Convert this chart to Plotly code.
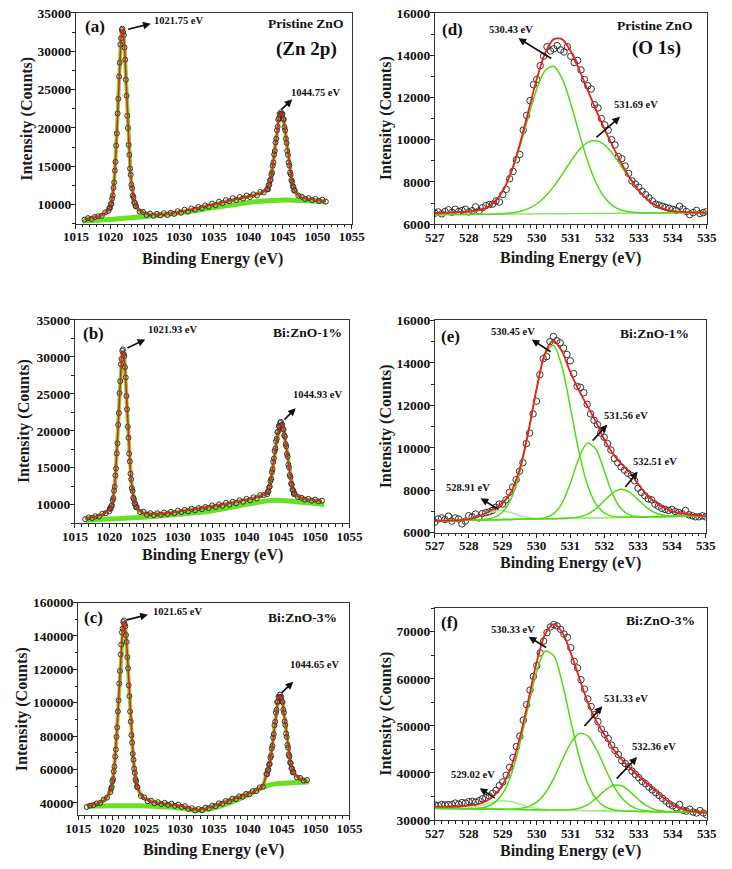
import numpy as np
import plotly.graph_objects as go

W, H = 732, 869
SERIF = "Liberation Serif, Times New Roman, serif"
RED = "#f01d1d"
GREEN = "#4fdc14"
LGREEN = "#a8ec8a"
ZN_HALO = "#72e23c"
ZN_BG = "#68e024"
DOT = "#333333"

def grid(segs):
    parts = [np.arange(a, b + s / 2, s) for a, b, s in segs]
    return np.round(np.concatenate(parts), 2)

# ---------------- Zn 2p (intensities in thousands of counts) ----------------
A_SEGS = [(1016.25, 1019.25, 0.5), (1019.75, 1023.75, 0.1), (1024.25, 1042.25, 0.5),
          (1042.75, 1046.75, 0.1), (1047.25, 1051.25, 0.5)]
A_FIT = [8.10, 8.17, 8.25, 8.33, 8.45, 8.62, 8.90,
         9.30, 9.45, 9.65, 9.90, 10.18, 10.68, 11.31, 12.05, 13.05, 14.30, 15.79, 17.53, 19.50, 21.74,
         23.97, 26.45, 28.67, 30.66, 31.89, 32.63, 32.88, 32.64, 31.91, 30.68, 28.71, 26.50, 24.03,
         21.82, 19.80, 17.94, 16.31, 14.89, 13.71, 12.73, 11.99, 11.33, 10.80, 10.44, 10.14, 9.90, 9.69,
         9.20, 8.95, 8.80, 8.72, 8.70, 8.70, 8.72, 8.75, 8.80, 8.86, 8.93, 9.00, 9.08, 9.17, 9.26, 9.36,
         9.46, 9.57, 9.68, 9.79, 9.90, 10.01, 10.12, 10.23, 10.34, 10.45, 10.55, 10.65, 10.75, 10.85,
         10.94, 11.03, 11.12, 11.22, 11.34, 11.50, 11.72,
         11.95, 12.16, 12.41, 12.72, 13.02, 13.41, 13.80, 14.35, 14.96, 15.64, 16.38, 17.15, 17.92, 18.75,
         19.55, 20.29, 20.95, 21.39, 21.68, 21.87, 21.95, 21.87, 21.68, 21.39, 20.95, 20.29, 19.55, 18.75,
         17.92, 17.15, 16.38, 15.64, 14.96, 14.35, 13.80, 13.31, 12.87, 12.52, 12.21, 11.96, 11.75,
         11.25, 10.95, 10.80, 10.72, 10.65, 10.60, 10.55, 10.50, 10.45]
A_DATA = [8.05, 8.25, 8.15, 8.40, 8.50, 8.55, 9.00,
          9.20, 9.55, 9.60, 10.05, 10.10, 10.80, 11.20, 12.20, 12.90, 14.45, 15.60, 17.70, 19.30, 21.90,
          23.80, 26.70, 28.50, 30.90, 31.70, 32.80, 32.95, 32.50, 32.10, 30.50, 28.90, 26.30, 24.20,
          21.60, 20.00, 17.80, 16.50, 14.70, 13.90, 12.60, 12.15, 11.20, 10.95, 10.30, 10.25, 9.80, 9.80,
          9.10, 9.05, 8.65, 8.85, 8.55, 8.80, 8.60, 8.90, 8.65, 8.95, 8.80, 9.15, 8.95, 9.35, 9.10, 9.50,
          9.35, 9.70, 9.55, 9.90, 9.75, 10.15, 9.95, 10.40, 10.20, 10.60, 10.45, 10.85, 10.60, 11.00,
          10.80, 11.20, 11.00, 11.35, 11.20, 11.65, 11.60,
          12.05, 12.00, 12.55, 12.60, 13.15, 13.30, 13.95, 14.20, 15.10, 15.50, 16.55, 17.00, 18.10, 18.60,
          19.70, 20.15, 21.10, 21.25, 21.85, 21.70, 22.05, 21.75, 21.85, 21.20, 21.10, 20.10, 19.70, 18.60,
          18.05, 17.00, 16.50, 15.50, 15.10, 14.20, 13.95, 13.20, 13.00, 12.40, 12.35, 11.85, 11.85,
          11.20, 11.05, 10.75, 10.85, 10.60, 10.75, 10.50, 10.65, 10.40]
A_BG_X = [1016, 1020, 1025, 1030, 1035, 1040, 1043, 1045.5, 1048, 1051.25]
A_BG_Y = [7.87, 8.07, 8.45, 8.95, 9.62, 10.30, 10.52, 10.62, 10.55, 10.35]

B_SEGS = [(1016.5, 1019.5, 0.5), (1020.0, 1024.0, 0.1), (1024.5, 1042.5, 0.5),
          (1043.0, 1047.0, 0.1), (1047.5, 1051.0, 0.5)]
B_FIT = [8.10, 8.18, 8.27, 8.37, 8.50, 8.68, 8.95,
         9.21, 9.38, 9.51, 9.70, 10.00, 10.45, 11.03, 11.72, 12.62, 13.76, 15.13, 16.71, 18.53, 20.57,
         22.60, 24.87, 26.92, 28.73, 29.87, 30.55, 30.78, 30.56, 29.90, 28.77, 26.97, 24.94, 22.68,
         20.76, 18.84, 17.13, 15.66, 14.36, 13.28, 12.39, 11.72, 11.10, 10.61, 10.28, 10.00, 9.78, 9.58,
         9.10, 8.88, 8.78, 8.74, 8.73, 8.74, 8.77, 8.81, 8.86, 8.92, 8.98, 9.05, 9.12, 9.19, 9.26, 9.33,
         9.40, 9.47, 9.54, 9.61, 9.69, 9.77, 9.85, 9.93, 10.01, 10.10, 10.19, 10.28, 10.37, 10.46, 10.56,
         10.66, 10.76, 10.87, 11.00, 11.17, 11.40,
         11.48, 11.64, 11.90, 12.22, 12.58, 13.05, 13.62, 14.25, 14.92, 15.65, 16.37, 17.09, 17.76, 18.43,
         19.05, 19.61, 20.08, 20.44, 20.69, 20.85, 20.90, 20.85, 20.68, 20.43, 20.06, 19.59, 19.02, 18.40,
         17.72, 17.05, 16.32, 15.60, 14.87, 14.20, 13.57, 13.00, 12.53, 12.17, 11.85, 11.59, 11.43,
         11.10, 10.90, 10.78, 10.70, 10.62, 10.56, 10.50, 10.45]
B_DATA = [8.05, 8.30, 8.20, 8.45, 8.40, 8.80, 8.85,
          9.10, 9.50, 9.45, 9.85, 9.90, 10.60, 10.90, 11.90, 12.45, 13.95, 14.90, 16.95, 18.30, 20.80,
          22.40, 25.10, 26.70, 29.00, 29.70, 30.80, 31.00, 30.40, 30.10, 28.60, 27.20, 24.70, 22.90,
          20.55, 19.05, 16.90, 15.85, 14.20, 13.45, 12.25, 11.85, 10.95, 10.75, 10.15, 10.10, 9.65, 9.70,
          9.00, 9.05, 8.65, 8.85, 8.60, 8.85, 8.65, 8.95, 8.75, 9.05, 8.85, 9.20, 9.00, 9.30, 9.10, 9.45,
          9.25, 9.55, 9.40, 9.70, 9.55, 9.90, 9.70, 10.05, 9.85, 10.25, 10.00, 10.40, 10.20, 10.60, 10.40,
          10.80, 10.60, 11.00, 10.85, 11.30, 11.30,
          11.40, 11.75, 11.80, 12.35, 12.45, 13.20, 13.50, 14.40, 14.80, 15.80, 16.25, 17.25, 17.60, 18.60,
          18.90, 19.80, 19.90, 20.65, 20.55, 21.05, 21.20, 20.70, 20.85, 20.25, 20.20, 19.40, 19.20, 18.20,
          17.90, 16.85, 16.50, 15.40, 15.05, 14.00, 13.75, 12.85, 12.70, 12.00, 11.95, 11.45, 11.55,
          11.05, 10.95, 10.70, 10.80, 10.55, 10.70, 10.45, 10.55]
B_BG_X = [1016.6, 1020, 1025, 1030, 1035, 1040, 1043.5, 1046, 1049, 1051.3]
B_BG_Y = [7.90, 8.07, 8.30, 8.70, 9.20, 10.05, 10.58, 10.52, 10.25, 10.00]

C_SEGS = [(1016.25, 1019.25, 0.5), (1019.75, 1023.75, 0.1), (1024.25, 1042.25, 0.5),
          (1042.75, 1046.75, 0.1), (1047.25, 1048.75, 0.5)]
C_FIT = [38.3, 38.6, 39.0, 39.5, 40.3, 41.6, 43.6,
         46.8, 48.1, 50.0, 52.2, 54.6, 58.2, 62.3, 67.0, 72.5, 78.8, 86.0, 94.0, 102.2, 110.7, 119.8,
         128.1, 135.6, 141.3, 145.1, 147.6, 148.4, 147.6, 145.1, 141.3, 135.6, 128.1, 119.8, 111.2,
         103.2, 95.5, 88.0, 81.3, 75.5, 70.0, 65.3, 61.2, 57.4, 54.8, 52.4, 50.3, 48.8,
         44.8, 42.8, 41.6, 40.9, 40.4, 40.0, 39.8, 39.6, 39.4, 39.1, 38.8, 38.5, 38.1, 37.6, 37.0, 36.4,
         36.0, 35.9, 36.2, 36.7, 37.3, 37.9, 38.6, 39.3, 40.0, 40.7, 41.4, 42.1, 42.8, 43.5, 44.2, 44.9,
         45.7, 46.6, 47.6, 48.8, 50.3,
         56.8, 57.8, 59.0, 60.4, 62.1, 64.1, 66.4, 69.0, 71.8, 75.0, 78.4, 82.0, 85.6, 89.4, 93.1, 96.5,
         99.5, 101.6, 102.9, 103.8, 104.2, 103.8, 102.9, 101.6, 99.6, 96.6, 93.3, 89.7, 85.9, 82.4, 78.9,
         75.5, 72.4, 69.7, 67.2, 65.0, 63.0, 61.4, 60.1, 58.9, 58.0,
         55.8, 54.5, 53.8, 53.2]
C_DATA = [37.6, 38.4, 38.7, 39.8, 40.0, 42.0, 43.2,
          46.5, 48.6, 49.6, 52.9, 54.2, 58.9, 61.8, 67.8, 72.0, 79.6, 85.2, 94.8, 101.4, 111.5, 119.0,
          128.9, 134.8, 142.1, 144.4, 148.3, 149.3, 147.0, 145.8, 140.6, 136.4, 127.3, 120.6, 110.4,
          104.0, 94.8, 88.7, 80.6, 76.1, 69.4, 65.9, 60.6, 58.0, 54.2, 53.0, 49.8, 49.4,
          44.2, 43.3, 41.0, 41.4, 39.8, 40.5, 39.3, 40.1, 38.9, 39.6, 38.3, 39.0, 37.6, 38.1, 36.5, 36.9,
          35.5, 36.4, 35.7, 37.2, 36.8, 38.4, 38.1, 39.8, 39.5, 41.2, 40.9, 42.6, 42.3, 44.0, 43.7, 45.4,
          45.2, 47.1, 47.1, 49.3, 49.8,
          57.3, 57.2, 59.6, 59.8, 62.8, 63.4, 67.1, 68.3, 72.6, 74.2, 79.2, 81.2, 86.5, 88.6, 94.0, 95.7,
          100.4, 100.8, 103.7, 103.0, 104.9, 103.0, 103.6, 100.8, 100.4, 95.8, 94.1, 88.9, 86.7, 81.6,
          79.6, 74.7, 73.1, 69.0, 67.9, 64.3, 63.7, 60.7, 60.6, 58.3, 58.6,
          55.3, 55.0, 53.4, 53.7]
C_BG_X = [1016.3, 1020, 1024, 1027, 1030, 1032.5, 1035, 1038, 1040, 1042, 1043.5, 1046, 1049]
C_BG_Y = [38.0, 38.3, 38.3, 37.8, 37.0, 35.6, 37.0, 41.0, 44.8, 49.0, 51.0, 51.9, 52.5]

# ---------------- O 1s (counts) ----------------
O_DATA_SEG = [(527.0, 535.0, 0.1)]
O_FIT_SEG = [(527.0, 535.0, 0.25)]

D_DATA = [6520, 6580, 6490, 6600, 6680, 6560, 6710, 6600, 6650, 6710,
          6580, 6640, 6820, 6630, 6780, 6880, 6930, 6950, 7100, 7050,
          7400, 7650, 8150, 8500, 9050, 9300, 10450, 11150, 11850, 12600,
          12850, 13500, 13950, 14400, 14200, 14300, 14450, 14250, 14150, 14400,
          13950, 13650, 13750, 13300, 12850, 12550, 12400, 11650, 11500, 11000,
          10700, 10450, 10000, 9750, 9200, 9100, 8750, 8400, 8050, 7900,
          7750, 7550, 7400, 7250, 7100, 6950, 6900, 6850, 6800, 6750,
          6700, 6650, 6850, 6720, 6600, 6450, 6550, 6650, 6500, 6550, 6600]
D_ENV = [6530, 6540, 6550, 6570, 6600, 6650, 6760, 7050, 7583, 8493, 9783, 11331, 12882, 14109,
         14760, 14747, 14182, 13309, 12327, 11378, 10476, 9636, 8850, 8157, 7594, 7175, 6890, 6717,
         6623, 6578, 6558, 6552, 6552]
D_C1 = [6520, 6530, 6540, 6560, 6590, 6640, 6750, 7040, 7560, 8438, 9659, 11076, 12402, 13288,
        13466, 12874, 11701, 10290, 8963, 7937, 7247, 6859, 6659, 6573, 6542, 6533, 6531, 6534,
        6537, 6541, 6544, 6547, 6550]
D_C2 = [6450, 6453, 6456, 6459, 6462, 6466, 6472, 6481, 6498, 6533, 6605, 6739, 6967, 7312,
        7788, 8370, 8981, 9522, 9870, 9950, 9741, 9293, 8710, 8106, 7577, 7170, 6890, 6717,
        6623, 6578, 6558, 6552, 6552]
D_BG_X = [527, 535]
D_BG_Y = [6450, 6550]

E_DATA = [6500, 6650, 6700, 6620, 6780, 6550, 6700, 6650, 6420, 6550,
          6800, 6750, 6880, 6700, 6900, 6950, 6980, 7050, 7200, 7350,
          7350, 7550, 7900, 8150, 8500, 8900, 9300, 10200, 10700, 11600,
          12200, 13450, 14200, 14300, 15000, 15250, 15050, 14950, 14700, 14400,
          14100, 13500, 12900, 12850, 12600, 12050, 11600, 11300, 11100, 10700,
          10500, 10200, 9900, 9500, 9300, 9100, 8950, 8800, 8700, 8450,
          8100, 7900, 7750, 7600, 7550, 7350, 7250, 7150, 7100, 7050,
          7100, 7000, 6950, 6900, 7050, 6850, 6800, 6750, 6750, 6800, 6750]
E_ENV = [6560, 6568, 6578, 6599, 6647, 6751, 6918, 7129, 7402, 7917, 8963, 10679, 12750, 14443,
         15057, 14556, 13567, 12722, 11987, 11250, 10400, 9750, 9250, 8850, 8300, 7800, 7450, 7200,
         7020, 6920, 6860, 6820, 6800]
E_CA = [6560, 6568, 6578, 6599, 6646, 6745, 6889, 7017, 7041, 6951, 6817, 6718, 6673, 6663,
        6665, 6673, 6680, 6688, 6695, 6703, 6710, 6718, 6725, 6733, 6740, 6748, 6755, 6763,
        6770, 6778, 6785, 6793, 6800]
E_CB = [6560, 6568, 6575, 6583, 6591, 6604, 6634, 6725, 6981, 7594, 8781, 10603, 12718, 14386,
        14835, 13848, 11912, 9857, 8286, 7370, 6941, 6785, 6741, 6736, 6740, 6748, 6755, 6763,
        6770, 6778, 6785, 6793, 6800]
E_CC = [6560, 6568, 6575, 6583, 6590, 6598, 6605, 6613, 6620, 6628, 6635, 6644, 6659, 6710,
        6887, 7378, 8321, 9497, 10223, 9960, 8917, 7818, 7127, 6841, 6761, 6751, 6755, 6763,
        6770, 6778, 6785, 6793, 6800]
E_CD = [6560, 6568, 6575, 6583, 6590, 6598, 6605, 6613, 6620, 6628, 6635, 6643, 6650, 6658,
        6665, 6676, 6694, 6744, 6868, 7122, 7500, 7879, 8055, 7918, 7563, 7193, 6942, 6824,
        6786, 6781, 6785, 6793, 6800]
E_BG_X = [527, 535]
E_BG_Y = [6560, 6800]

F_DATA = [33200, 33100, 33300, 33200, 33250, 33300, 33600, 33350, 33700, 33600,
          33900, 34000, 33800, 34100, 34500, 34700, 35100, 35700, 36300, 37300,
          38100, 39500, 41200, 43300, 45600, 47800, 51200, 54500, 57600, 60500,
          62800, 65500, 68000, 69800, 71000, 71500, 71200, 70500, 69500, 68800,
          66600, 63700, 62300, 59800, 57800, 55700, 54100, 52400, 50900, 49300,
          48200, 47300, 45900, 44800, 43900, 42600, 42000, 41300, 40400, 39700,
          39000, 38200, 37700, 37000, 36400, 35800, 35200, 34600, 34000, 33400,
          33000, 32600, 33300, 32100, 31900, 32300, 31700, 31500, 32000, 31500, 31100]
F_ENV = [32850, 32850, 32870, 32920, 33050, 33350, 34000, 35300, 37550, 41400, 47450, 55400,
         63600, 69550, 71600, 69800, 65500, 60200, 55000, 51000, 48000, 45100, 42800, 41000,
         39300, 37700, 36200, 34600, 33200, 32400, 31900, 31700, 31550]
F_CA = [32500, 32472, 32462, 32488, 32613, 32909, 33379, 33858, 34074, 33867, 33354, 32811,
        32426, 32221, 32128, 32078, 32050, 32022, 31994, 31966, 31938, 31909, 31881, 31853,
        31825, 31797, 31769, 31741, 31713, 31684, 31656, 31628, 31600]
F_CB = [32500, 32472, 32444, 32422, 32417, 32481, 32768, 33629, 35679, 39707, 46099, 54151,
        61673, 65854, 64846, 59108, 51020, 43332, 37730, 34438, 32843, 32190, 31955, 31870,
        31825, 31797, 31769, 31741, 31713, 31684, 31656, 31628, 31600]
F_CC = [32500, 32472, 32444, 32416, 32388, 32359, 32331, 32303, 32289, 32306, 32430, 32835,
        33815, 35754, 38841, 42738, 46370, 48386, 47884, 45086, 41143, 37398, 34665, 33053,
        32264, 31933, 31805, 31749, 31713, 31684, 31656, 31628, 31600]
F_CD = [32500, 32472, 32444, 32416, 32388, 32359, 32331, 32303, 32275, 32247, 32219, 32191,
        32163, 32134, 32106, 32109, 32188, 32498, 33270, 34627, 36260, 37376, 37267, 35984,
        34294, 32945, 32185, 31858, 31739, 31684, 31656, 31628, 31600]
F_BG_X = [527, 535]
F_BG_Y = [32500, 31600]

# ---------------- layout geometry (pixels) ----------------
# panel: (left, right, top, bottom)
BOX = {
    "a": (65.3, 351.7, 6.0, 220.7),
    "d": (438.0, 720.3, 6.0, 221.0),
    "b": (64.3, 349.3, 318.3, 525.3),
    "e": (438.0, 719.3, 319.0, 535.0),
    "c": (67.7, 349.3, 606.0, 822.7),
    "f": (438.0, 720.3, 611.7, 827.3),
}
AXID = {"a": "", "d": "2", "b": "3", "e": "4", "c": "5", "f": "6"}

fig = go.Figure()


def xr(p):
    return "x" + AXID[p]


def yr(p):
    return "y" + AXID[p]


def zn_panel(p, segs, data_k, fit_k, bgx, bgy_k):
    x = grid(segs)
    assert len(x) == len(data_k) == len(fit_k), (p, len(x), len(data_k), len(fit_k))
    data = np.array(data_k) * 1000
    fit = np.array(fit_k) * 1000
    bg = np.array(bgy_k) * 1000
    kw = dict(xaxis=xr(p), yaxis=yr(p), showlegend=False, hoverinfo="skip")
    fig.add_trace(go.Scatter(x=bgx, y=bg, mode="lines",
                             line=dict(color=ZN_BG, width=5, shape="spline"), **kw))
    fig.add_trace(go.Scatter(x=x, y=fit, mode="lines",
                             line=dict(color=ZN_HALO, width=4), **kw))
    fig.add_trace(go.Scatter(x=x, y=data, mode="markers",
                             marker=dict(symbol="circle-open", size=5, color=DOT,
                                         line=dict(width=1, color=DOT)), **kw))
    fig.add_trace(go.Scatter(x=x, y=fit, mode="lines",
                             line=dict(color=RED, width=1.6), **kw))


def o_panel(p, data, env, comps, bgx, bgy):
    xd = grid(O_DATA_SEG)
    xf = grid(O_FIT_SEG)
    assert len(xd) == len(data), (p, len(xd), len(data))
    for c, _ in comps:
        assert len(c) == len(xf), (p, len(c))
    assert len(env) == len(xf)
    kw = dict(xaxis=xr(p), yaxis=yr(p), showlegend=False, hoverinfo="skip")
    fig.add_trace(go.Scatter(x=xd, y=data, mode="markers",
                             marker=dict(symbol="circle-open", size=6.5, color=DOT,
                                         line=dict(width=1, color=DOT)), **kw))
    fig.add_trace(go.Scatter(x=bgx, y=bgy, mode="lines",
                             line=dict(color="#86e060", width=1.4), **kw))
    for c, col in comps:
        fig.add_trace(go.Scatter(x=xf, y=c, mode="lines",
                                 line=dict(color=col, width=1.5, shape="spline", smoothing=0.8), **kw))
    fig.add_trace(go.Scatter(x=xf, y=env, mode="lines",
                             line=dict(color=RED, width=1.8, shape="spline", smoothing=0.8), **kw))


zn_panel("a", A_SEGS, A_DATA, A_FIT, A_BG_X, A_BG_Y)
zn_panel("b", B_SEGS, B_DATA, B_FIT, B_BG_X, B_BG_Y)
zn_panel("c", C_SEGS, C_DATA, C_FIT, C_BG_X, C_BG_Y)
o_panel("d", D_DATA, D_ENV, [(D_C1, GREEN), (D_C2, GREEN)], D_BG_X, D_BG_Y)
o_panel("e", E_DATA, E_ENV, [(E_CA, LGREEN), (E_CB, GREEN), (E_CC, GREEN), (E_CD, GREEN)], E_BG_X, E_BG_Y)
o_panel("f", F_DATA, F_ENV, [(F_CA, LGREEN), (F_CB, GREEN), (F_CC, GREEN), (F_CD, GREEN)], F_BG_X, F_BG_Y)

# ---------------- axes ----------------
RANGES = {
    "a": ([1015, 1055], 5, 1, [7500, 35000], 5000, 2500),
    "b": ([1015, 1055], 5, 1, [7500, 35000], 5000, 2500),
    "c": ([1015, 1055], 5, 1, [32500, 160000], 20000, 10000),
    "d": ([527, 535], 1, 0.2, [6000, 16000], 2000, 1000),
    "e": ([527, 535], 1, 0.2, [6000, 16000], 2000, 1000),
    "f": ([527, 535], 1, 0.2, [30000, 75000], 10000, 5000),
}


def axis(rng, dtick, mdtick, dom, anchor, size, standoff):
    return dict(range=rng, domain=dom, anchor=anchor, tick0=0, dtick=dtick,
                ticks="outside", ticklen=4, tickwidth=1, tickcolor="#222",
                showline=True, linecolor="#333", linewidth=1, mirror=True,
                showgrid=False, zeroline=False, tickformat="d",
                ticklabelstandoff=standoff,
                tickfont=dict(family=SERIF, size=size, color="#111", weight="bold"),
                minor=dict(tick0=0, dtick=mdtick, ticks="outside", ticklen=2.5, tickwidth=1,
                           tickcolor="#222", showgrid=False),
                fixedrange=True)


layout_axes = {}
for p, (l, r, t, b) in BOX.items():
    xrng, xd, xmd, yrng, yd, ymd = RANGES[p]
    n = AXID[p]
    layout_axes["xaxis" + n] = axis(xrng, xd, xmd, [l / W, r / W], yr(p), 13, -3)
    layout_axes["yaxis" + n] = axis(yrng, yd, ymd, [1 - b / H, 1 - t / H], xr(p), 13.5, -3)

# ---------------- annotations ----------------
ann = []


def txt(p, x, y, s, size=10.5, anchor="left"):
    ann.append(dict(xref=xr(p), yref=yr(p), x=x, y=y, text=s, showarrow=False,
                    xanchor=anchor, yanchor="middle",
                    font=dict(family=SERIF, size=size, color="#111", weight="bold")))


def arrow(p, hx, hy, tx, ty):
    ann.append(dict(xref=xr(p), yref=yr(p), x=hx, y=hy, ax=tx, ay=ty,
                    axref=xr(p), ayref=yr(p), text="", showarrow=True,
                    arrowhead=2, arrowsize=0.9, arrowwidth=1.7, arrowcolor="#111",
                    standoff=0, startstandoff=0))


# (a)
txt("a", 1016.1, 33200, "(a)", 17)
txt("a", 1054.06, 33600, "Pristine ZnO", 13.5, "right")
txt("a", 1053.1, 30260, "(Zn 2p)", 19, "right")
txt("a", 1026.1, 33980, "1021.75 eV")
arrow("a", 1025.85, 33600, 1022.36, 32820)
txt("a", 1045.96, 24630, "1044.75 eV")
arrow("a", 1046.38, 23730, 1044.57, 22200)
# (d)
txt("d", 527.14, 15195, "(d)", 17)
txt("d", 528.53, 15223, "530.43 eV")
arrow("d", 529.46, 14805, 530.47, 13800)
txt("d", 534.62, 15427, "Pristine ZnO", 13.5, "right")
txt("d", 534.29, 14340, "(O 1s)", 19, "right")
txt("d", 532.21, 11660, "531.69 eV")
arrow("d", 532.45, 11085, 531.71, 10047)
# (b)
txt("b", 1015.9, 33087, "(b)", 17)
txt("b", 1025.3, 33750, "1021.93 eV")
arrow("b", 1025.25, 32343, 1022.44, 31094)
txt("b", 1054.16, 33313, "Bi:ZnO-1%", 13.5, "right")
txt("b", 1046.44, 24943, "1044.93 eV")
arrow("b", 1047.17, 23044, 1045.32, 21317)
# (e)
txt("e", 527.13, 15259, "(e)", 17)
txt("e", 528.61, 15491, "530.45 eV")
arrow("e", 529.86, 15106, 530.46, 14486)
txt("e", 534.56, 15366, "Bi:ZnO-1%", 13.5, "right")
txt("e", 531.93, 11523, "531.56 eV")
arrow("e", 532.09, 11093, 531.62, 10273)
txt("e", 532.78, 9347, "532.51 eV")
arrow("e", 532.99, 8884, 532.59, 8083)
txt("e", 527.28, 8116, "528.91 eV")
arrow("e", 528.35, 7620, 528.91, 7079)
# (c)
txt("c", 1015.57, 150762, "(c)", 17)
txt("c", 1025.74, 154700, "1021.65 eV")
arrow("c", 1025.27, 152763, 1021.96, 149400)
txt("c", 1053.45, 151174, "Bi:ZnO-3%", 13.5, "right")
txt("c", 1045.87, 122753, "1044.65 eV")
arrow("c", 1046.72, 112516, 1044.77, 105100)
# (f)
txt("f", 527.11, 71870, "(f)", 17)
txt("f", 528.58, 70492, "530.33 eV")
arrow("f", 529.76, 68948, 530.32, 66443)
txt("f", 534.72, 72370, "Bi:ZnO-3%", 13.5, "right")
txt("f", 531.91, 55910, "531.33 eV")
arrow("f", 531.93, 54178, 531.36, 49650)
txt("f", 532.73, 45622, "532.36 eV")
arrow("f", 532.95, 43390, 532.31, 38460)
txt("f", 527.42, 39650, "529.02 eV")
arrow("f", 528.32, 36740, 528.81, 34445)

# axis titles (pixel positions)
YT_X = {"a": 15, "b": 11, "c": 9.5, "d": 387, "e": 387, "f": 387}
XT = {"a": (207, 256), "b": (207, 558), "c": (208, 858), "d": (579, 255), "e": (579, 566), "f": (579, 859)}
for p, (l, r, t, b) in BOX.items():
    ann.append(dict(xref="paper", yref="paper", x=YT_X[p] / W, y=1 - (t + b) / 2 / H,
                    text="Intensity (Counts)", textangle=-90, showarrow=False,
                    xanchor="center", yanchor="middle",
                    font=dict(family=SERIF, size=16, color="#1a1a1a", weight="bold")))
    cx, cy = XT[p]
    ann.append(dict(xref="paper", yref="paper", x=cx / W, y=1 - cy / H,
                    text="Binding Energy (eV)", showarrow=False,
                    xanchor="center", yanchor="middle",
                    font=dict(family=SERIF, size=16, color="#1a1a1a", weight="bold")))

fig.update_layout(width=W, height=H, margin=dict(l=0, r=0, t=0, b=0),
                  paper_bgcolor="white", plot_bgcolor="white",
                  annotations=ann, **layout_axes)

fig.write_html("out.html", config={"displayModeBar": False})
